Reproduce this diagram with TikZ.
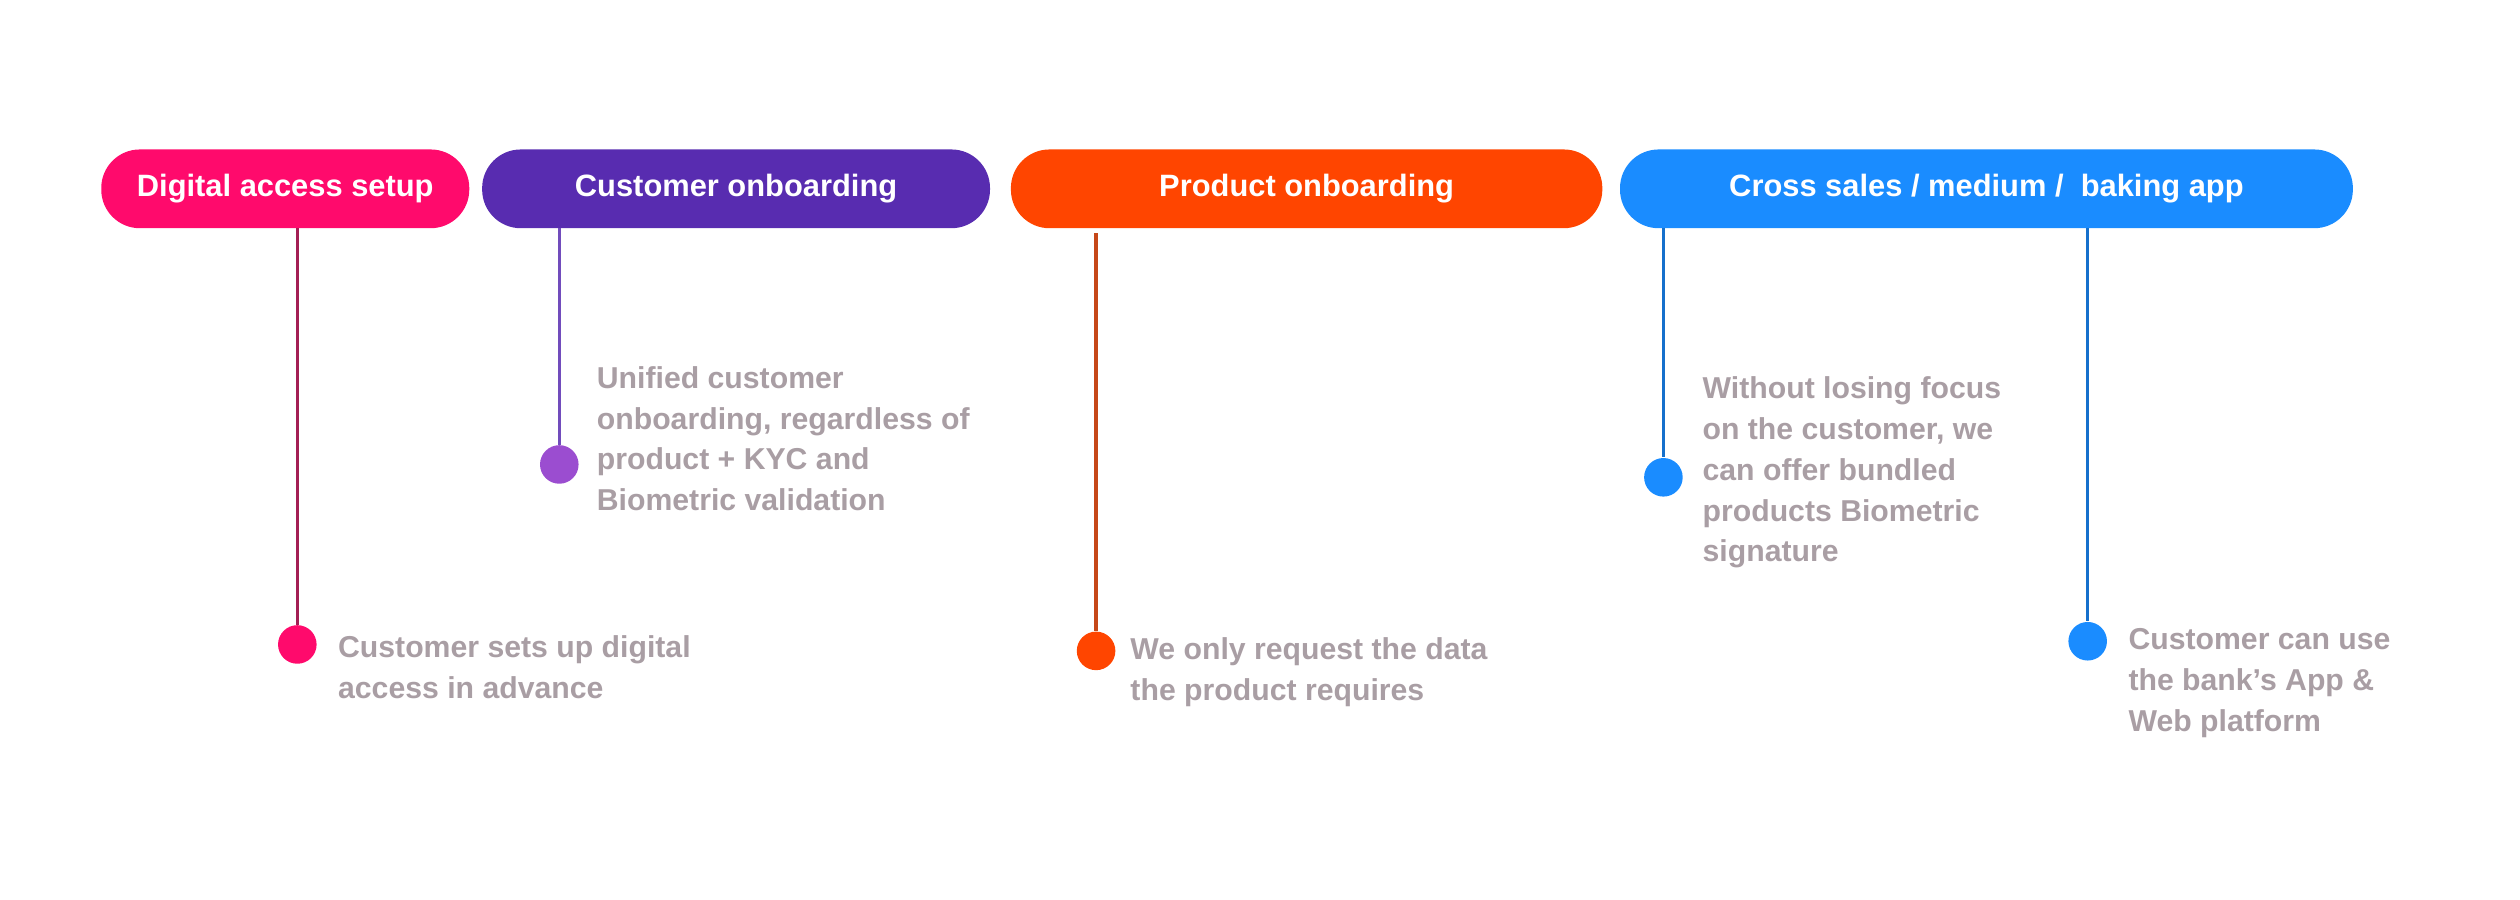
\documentclass[tikz,border=0pt]{standalone}
\usepackage{fontspec}
\setmainfont{Liberation Sans}
\begin{document}
\begin{tikzpicture}[x=0.5pt,y=-0.5pt,
  pill/.style={rounded corners=12pt,text=white,font=\bfseries\fontsize{9.6}{11}\selectfont,inner sep=0pt},
  txt/.style={anchor=west,text=txtc,font=\bfseries\fontsize{9.4}{12.7}\selectfont,align=left,inner sep=0pt},
  dot/.style={circle,minimum size=12pt,inner sep=0pt}]
\definecolor{txtc}{HTML}{A99EA4}
\definecolor{cpink}{HTML}{FF0A6C}\definecolor{cpurp}{HTML}{582CB0}
\definecolor{corg}{HTML}{FF4500}\definecolor{cblue}{HTML}{1A8CFF}
\useasboundingbox (0,0) rectangle (1568,560);
\fill[cpink,rounded corners=12pt] (63,93) rectangle (292,142);
\node[pill] (p1) at (177.5,117.5) {Digital access setup};
\fill[cpurp,rounded corners=12pt] (300,93) rectangle (616,142);
\node[pill] (p2) at (458,117.5) {Customer onboarding};
\fill[corg,rounded corners=12pt] (629,93) rectangle (997,142);
\node[pill] (p3) at (813,117.5) {Product onboarding};
\fill[cblue,rounded corners=12pt] (1008,93) rectangle (1464,142);
\node[pill] (p4) at (1236,117.5) {Cross sales / medium /\ \ baking app};
\coordinate (a1) at (185,142); \node[dot,fill=cpink] (d1) at (185,401) {};
\coordinate (a2) at (348,142); \node[dot,fill=cpurp!75!magenta!80!white] (d2) at (348,289) {};
\coordinate (a3) at (682,145); \node[dot,fill=corg] (d3) at (682,405) {};
\coordinate (a4) at (1035,142); \node[dot,fill=cblue] (d4) at (1035,297) {};
\coordinate (a5) at (1299,142); \node[dot,fill=cblue] (d5) at (1299,399) {};
\draw[line width=1pt,color=cpink!60!black!90] (a1) -- (d1);
\draw[line width=1pt,color=cpurp!85] (a2) -- (d2);
\draw[line width=1pt,color=corg!75!black!90] (a3) -- (d3);
\draw[line width=1pt,color=cblue!80!black] (a4) -- (d4);
\draw[line width=1pt,color=cblue!80!black] (a5) -- (d5);
\node[txt] (t1) at (210,415) {Customer sets up digital\\access in advance};
\node[txt] (t2) at (371,273) {Unified customer\\onboarding, regardless of\\product + KYC and\\Biometric validation};
\node[txt] (t3) at (703,418) {We only request the data\\the product requires};
\node[txt] (t4) at (1059,294) {Without losing focus\\on the customer, we\\can offer bundled\\products Biometric\\signature};
\node[txt] (t5) at (1324,425) {Customer can use\\the bank’s App \&\\Web platform};
\end{tikzpicture}
\end{document}
